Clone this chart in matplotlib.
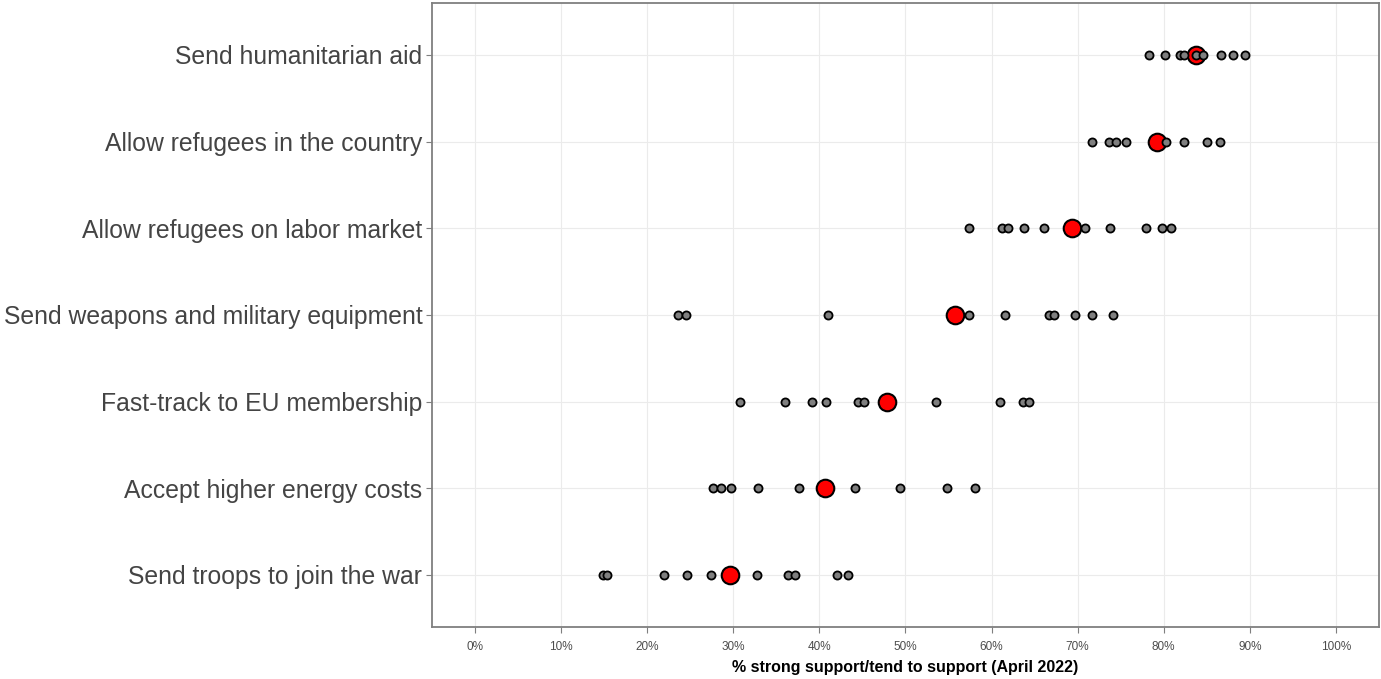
import numpy as np
import matplotlib.pyplot as plt
from matplotlib.ticker import FuncFormatter

plt.rcParams['font.family'] = ['Liberation Sans', 'DejaVu Sans']

# categories, bottom to top
items = [
    "Send troops to join the war",
    "Accept higher energy costs",
    "Fast-track to EU membership",
    "Send weapons and military equipment",
    "Allow refugees on labor market",
    "Allow refugees in the country",
    "Send humanitarian aid",
]

# EU-average (red) per item
avg = [29.6, 40.7, 47.9, 55.7, 69.3, 79.2, 83.8]

# per-country values (grey), same order as items
troops = [14.9, 15.3, 22.0, 24.6, 27.4, 32.7, 36.3, 37.2, 42.0, 43.3]
energy = [27.7, 28.6, 29.7, 32.9, 37.6, 44.1, 49.4, 54.8, 58.1]
eu_member = [30.8, 36.0, 39.1, 40.8, 44.5, 45.2, 53.6, 61.0, 63.7, 64.4]
weapons = [23.6, 24.5, 41.0, 57.4, 61.6, 66.7, 67.2, 69.7, 71.7, 74.1]
labor = [57.4, 61.2, 61.9, 63.8, 66.1, 70.8, 73.8, 77.9, 79.8, 80.8]
refugees = [71.7, 73.6, 74.4, 75.6, 80.3, 82.3, 85.0, 86.5]
aid = [78.3, 80.2, 81.9, 82.3, 83.7, 84.6, 86.7, 88.1, 89.4]

countries = [troops, energy, eu_member, weapons, labor, refugees, aid]

fig = plt.figure(figsize=(13.81, 6.79), dpi=100)
ax = fig.add_axes([0.3128, 0.0766, 0.6857, 0.919])

ypos = np.arange(1, len(items) + 1)

ax.scatter(avg, ypos, s=160, color="#ff0000", edgecolor="black",
           linewidth=1.5, zorder=3)
for y, vals in zip(ypos, countries):
    ax.scatter(vals, [y] * len(vals), s=34, color="#7f7f7f",
               edgecolor="black", linewidth=1.3, zorder=4)

ax.set_xlim(-5, 105)
ax.set_ylim(0.4, len(items) + 0.6)
ax.set_xticks(np.arange(0, 101, 10))
ax.xaxis.set_major_formatter(FuncFormatter(lambda v, p: f"{v:.0f}%"))
ax.set_yticks(ypos)
ax.set_yticklabels(items)

ax.grid(True, color="#ebebeb", linewidth=0.8, zorder=0)
ax.set_axisbelow(True)
for s in ax.spines.values():
    s.set_color("#7f7f7f")
    s.set_linewidth(1.3)

ax.tick_params(axis="y", labelsize=17.8, labelcolor="#444444", color="#7f7f7f",
               length=4, width=0.8, pad=3)
ax.tick_params(axis="x", labelsize=8.5, labelcolor="#4d4d4d", color="#7f7f7f",
               length=4, width=0.8, pad=6)
ax.set_xlabel("% strong support/tend to support (April 2022)",
              fontsize=11.5, fontweight="bold", labelpad=5)

fig.savefig("out.png", dpi=100)
